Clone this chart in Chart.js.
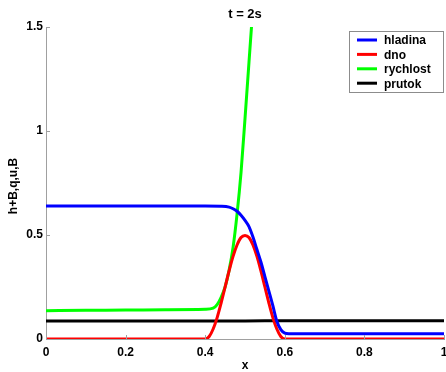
<!DOCTYPE html>
<html lang="en">
<head>
    <meta charset="UTF-8">
    <title>t = 2s</title>
    <script src="https://cdn.jsdelivr.net/npm/chart.js"></script>
    <style>
        html, body {
            margin: 0;
            padding: 0;
            background: #ffffff;
        }

        .chart-box {
            width: 446px;
            height: 372px;
        }
    </style>
</head>
<body>
    <div class="chart-box">
        <canvas id="profile-chart" width="446" height="372"></canvas>
    </div>

    <script>
        // Values at t = 2s
        const hladinaX = [0, 0.1, 0.2, 0.3, 0.4, 0.44, 0.46, 0.47, 0.48, 0.49, 0.5, 0.51, 0.52, 0.53, 0.54, 0.55, 0.56, 0.57, 0.58, 0.59, 0.6, 0.61, 0.7, 0.8, 0.9, 1];
        const hladinaY = [0.64, 0.64, 0.64, 0.639, 0.639, 0.638, 0.634, 0.626, 0.614, 0.595, 0.57, 0.54, 0.49, 0.43, 0.37, 0.3, 0.23, 0.16, 0.085, 0.045, 0.028, 0.025, 0.025, 0.025, 0.025, 0.025];

        const dnoX = [0, 0.4, 0.41, 0.42, 0.43, 0.44, 0.45, 0.46, 0.47, 0.48, 0.49, 0.5, 0.51, 0.52, 0.53, 0.54, 0.55, 0.56, 0.57, 0.58, 0.59, 0.6, 1];
        const dnoY = [0, 0, 0.012, 0.048, 0.103, 0.173, 0.25, 0.327, 0.397, 0.452, 0.488, 0.498, 0.488, 0.452, 0.397, 0.327, 0.25, 0.173, 0.103, 0.048, 0.012, 0, 0];

        const rychlostX = [0, 0.1, 0.2, 0.3, 0.4, 0.42, 0.43, 0.44, 0.45, 0.46, 0.47, 0.48, 0.49, 0.5, 0.51, 0.52, 0.53];
        const rychlostY = [0.136, 0.138, 0.139, 0.141, 0.143, 0.148, 0.165, 0.2, 0.25, 0.33, 0.44, 0.6, 0.8, 1.06, 1.33, 1.6, 1.87];

        const prutokX = [0, 0.2, 0.4, 0.5, 0.6, 0.8, 1];
        const prutokY = [0.086, 0.086, 0.087, 0.087, 0.088, 0.088, 0.088];

        const seriesNames = ['hladina', 'dno', 'rychlost', 'prutok'];
        const seriesColors = ['#0000ff', '#ff0000', '#00ff00', '#000000'];

        const xTicks = [0, 0.2, 0.4, 0.6, 0.8, 1];
        const yTicks = [0, 0.5, 1, 1.5];

        const plotTitle = 't = 2s';
        const xLabel = 'x';
        const yLabel = 'h+B,q,u,B';

        const axisColor = '#a0a0a0';
        const fontFamily = '"Liberation Sans", Arial, sans-serif';
        const boldFont = 'bold 12px ' + fontFamily;

        function toPoints(xs, ys) {
            return xs.map((x, i) => ({ x: x, y: ys[i] }));
        }

        const allX = [hladinaX, dnoX, rychlostX, prutokX];
        const allY = [hladinaY, dnoY, rychlostY, prutokY];

        const datasets = seriesNames.map((name, i) => ({
            label: name,
            data: toPoints(allX[i], allY[i]),
            borderColor: seriesColors[i],
            backgroundColor: seriesColors[i],
            borderWidth: 3,
            pointRadius: 0,
            cubicInterpolationMode: 'monotone',
            fill: false
        }));

        // Inward tick marks, titles and the boxed legend (matlab look)
        const decorations = {
            id: 'decorations',
            afterDatasetsDraw(chart) {
                const ctx = chart.ctx;
                const area = chart.chartArea;
                const xs = chart.scales.x;
                const ys = chart.scales.y;

                ctx.save();
                ctx.strokeStyle = axisColor;
                ctx.lineWidth = 1;
                ctx.beginPath();
                xTicks.forEach(v => {
                    const px = Math.round(xs.getPixelForValue(v)) + 0.5;
                    ctx.moveTo(px, area.bottom);
                    ctx.lineTo(px, area.bottom - 4);
                });
                yTicks.forEach(v => {
                    const py = Math.round(ys.getPixelForValue(v)) + 0.5;
                    ctx.moveTo(area.left, py);
                    ctx.lineTo(area.left + 4, py);
                });
                ctx.stroke();

                // titles
                ctx.fillStyle = '#000000';
                ctx.font = 'bold 13px ' + fontFamily;
                ctx.textAlign = 'center';
                ctx.textBaseline = 'alphabetic';
                ctx.fillText(plotTitle, (area.left + area.right) / 2, 18);

                ctx.font = boldFont;
                ctx.fillText(xLabel, (area.left + area.right) / 2, 369);

                ctx.save();
                ctx.translate(17, (area.top + area.bottom) / 2 + 3);
                ctx.rotate(-Math.PI / 2);
                ctx.fillText(yLabel, 0, 0);
                ctx.restore();

                // legend
                const boxLeft = 349.5, boxTop = 31.5, boxW = 94, boxH = 61;
                ctx.fillStyle = '#ffffff';
                ctx.fillRect(boxLeft, boxTop, boxW, boxH);
                ctx.strokeStyle = '#8c8c8c';
                ctx.lineWidth = 1;
                ctx.strokeRect(boxLeft, boxTop, boxW, boxH);

                ctx.font = boldFont;
                ctx.textAlign = 'left';
                ctx.textBaseline = 'middle';
                chart.data.datasets.forEach((ds, i) => {
                    const rowY = 40 + i * 14.4;
                    ctx.strokeStyle = ds.borderColor;
                    ctx.lineWidth = 3;
                    ctx.beginPath();
                    ctx.moveTo(357, rowY);
                    ctx.lineTo(377, rowY);
                    ctx.stroke();
                    ctx.fillStyle = '#000000';
                    ctx.fillText(ds.label, 384, rowY + 1);
                });
                ctx.restore();
            }
        };

        const tickFont = { family: fontFamily, size: 12, weight: 'bold' };

        const profileChart = new Chart(document.getElementById('profile-chart'), {
            type: 'line',
            data: { datasets: datasets },
            options: {
                responsive: false,
                animation: false,
                layout: {
                    padding: { top: 27, right: 2, bottom: 0, left: 0 }
                },
                plugins: {
                    legend: { display: false },
                    title: { display: false },
                    tooltip: { enabled: false }
                },
                scales: {
                    x: {
                        type: 'linear',
                        min: 0,
                        max: 1,
                        afterBuildTicks: axis => {
                            axis.ticks = xTicks.map(v => ({ value: v }));
                        },
                        afterFit: axis => {
                            axis.height = 33;
                            axis.paddingLeft = 0;
                            axis.paddingRight = 0;
                        },
                        grid: { drawOnChartArea: false, drawTicks: false },
                        border: { display: true, color: axisColor, width: 1 },
                        ticks: {
                            padding: 6,
                            color: '#000000',
                            maxRotation: 0,
                            autoSkip: false,
                            font: tickFont,
                            callback: v => String(v)
                        }
                    },
                    y: {
                        min: 0,
                        max: 1.5,
                        afterBuildTicks: axis => {
                            axis.ticks = yTicks.map(v => ({ value: v }));
                        },
                        afterFit: axis => {
                            axis.width = 46;
                            axis.paddingTop = 0;
                            axis.paddingBottom = 0;
                        },
                        grid: { drawOnChartArea: false, drawTicks: false },
                        border: { display: true, color: axisColor, width: 1 },
                        ticks: {
                            padding: 3,
                            color: '#000000',
                            autoSkip: false,
                            font: tickFont,
                            callback: v => String(v)
                        }
                    }
                }
            },
            plugins: [decorations]
        });
    </script>
</body>
</html>
